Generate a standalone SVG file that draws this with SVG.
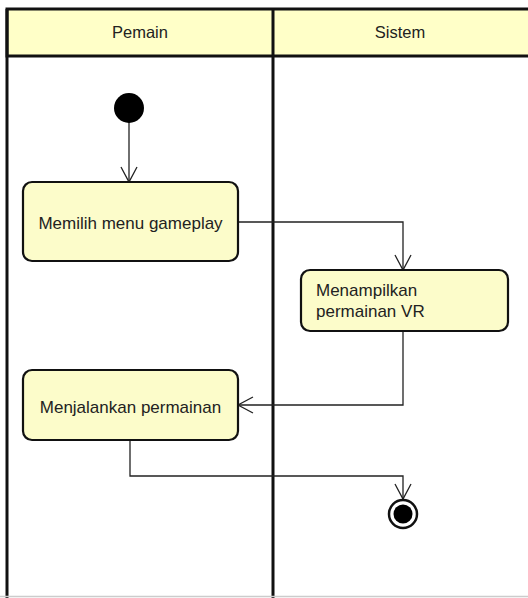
<svg xmlns="http://www.w3.org/2000/svg" width="528" height="598" viewBox="0 0 528 598">
<style>
.lane{fill:none;stroke:#111;stroke-width:3}
.hdr{fill:#FFFFC8;stroke:#111;stroke-width:3}
.box{fill:#FCFCCA;stroke:#111;stroke-width:2.2}
.t{font-family:"Liberation Sans",Arial,sans-serif;font-size:17px;fill:#222}
.h{font-family:"Liberation Sans",Arial,sans-serif;font-size:16.5px;fill:#222}
.c{fill:none;stroke:#222;stroke-width:1.3}
</style>
<defs>
<marker id="open" viewBox="0 0 20 20" refX="16" refY="10" markerWidth="20" markerHeight="20" markerUnits="userSpaceOnUse" orient="auto">
<path d="M1,2 L16,10 L1,18" fill="none" stroke="#222" stroke-width="1.3"/>
</marker>
</defs>
<rect width="528" height="598" fill="#fff"/>
<g id="lanes">
<rect class="hdr" x="7" y="9" width="530" height="47"/>
<line class="lane" x1="7" y1="9" x2="7" y2="598"/>
<line class="lane" x1="273" y1="9" x2="273" y2="598"/>
<line x1="0" y1="596.5" x2="528" y2="596.5" stroke="#ccc" stroke-width="1.5"/>
<text class="h" x="140" y="38" text-anchor="middle">Pemain</text>
<text class="h" x="400" y="38" text-anchor="middle">Sistem</text>
</g>
<g id="connectors">
<line class="c" x1="129" y1="122" x2="129" y2="182" marker-end="url(#open)"/>
<polyline class="c" points="238,222 403,222 403,270" marker-end="url(#open)"/>
<polyline class="c" points="403,331 403,405 238,405" marker-end="url(#open)"/>
<polyline class="c" points="130,440 130,476 403,476 403,499" marker-end="url(#open)"/>
</g>
<g id="start">
<circle cx="129" cy="108" r="15" fill="#000"/>
</g>
<g id="a1">
<rect class="box" x="23" y="182" width="215" height="79" rx="9"/>
<text class="t" x="130.5" y="229" text-anchor="middle">Memilih menu gameplay</text>
</g>
<g id="a2">
<rect class="box" x="301" y="270" width="207" height="61" rx="9"/>
<text class="t" x="316" y="296">Menampilkan</text>
<text class="t" x="316" y="317">permainan VR</text>
</g>
<g id="a3">
<rect class="box" x="23" y="370" width="215" height="70" rx="9"/>
<text class="t" x="130.5" y="413" text-anchor="middle">Menjalankan permainan</text>
</g>
<g id="end">
<circle cx="403" cy="514" r="14" fill="#fff" stroke="#111" stroke-width="2.5"/>
<circle cx="403" cy="514" r="9.5" fill="#000"/>
</g>
</svg>
